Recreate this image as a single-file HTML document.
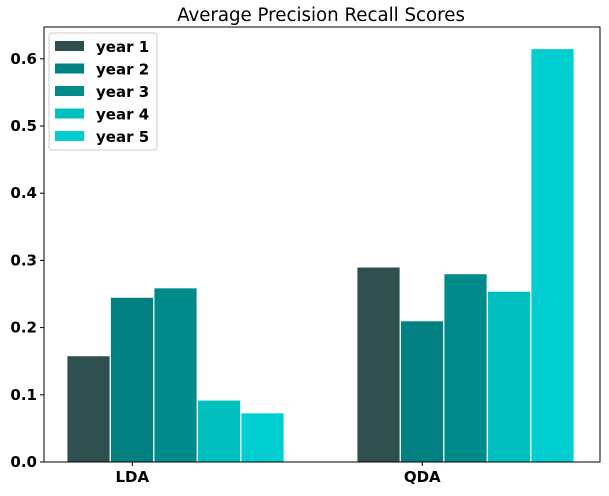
<!DOCTYPE html>
<html><head><meta charset="utf-8"><style>
body{margin:0;background:#fff;}
svg{font-family:"DejaVu Sans","Liberation Sans",sans-serif;}
</style></head><body>
<svg id="chart" width="609" height="491">
<text x="321" y="21" text-anchor="middle" font-size="18.2">Average Precision Recall Scores</text>
<g id="bars"></g>
<g id="axes"></g>
<g id="legend"></g>
</svg>
<script>
const categories=["LDA","QDA"];
const seriesNames=["year 1","year 2","year 3","year 4","year 5"];
const year1=[0.158,0.290];
const year2=[0.245,0.210];
const year3=[0.259,0.280];
const year4=[0.092,0.254];
const year5=[0.073,0.615];
const yTicks=[0.0,0.1,0.2,0.3,0.4,0.5,0.6];
const colors=["#2F4F4F","#008080","#008B8B","#00BFBF","#00CED1"];
const series=[year1,year2,year3,year4,year5];
const NS="http://www.w3.org/2000/svg";
const L=44,R=600,T=27,B=462;
const y=v=>B-v*672;
const groupX=[67,357];
const bw=43.5;
function el(t,a,p){const e=document.createElementNS(NS,t);for(const k in a)e.setAttribute(k,a[k]);p.appendChild(e);return e;}
const gb=document.getElementById('bars');
series.forEach((s,si)=>{s.forEach((v,ci)=>{
 const r=el('rect',{x:groupX[ci]+si*bw,y:y(v),width:bw-0.5,height:B-y(v),fill:colors[si],stroke:'#fff','stroke-width':0.8},gb);
 
 
});});
const ga=document.getElementById('axes');
const fr=el('rect',{x:L,y:T,width:R-L,height:B-T,fill:'none',stroke:'#000','stroke-width':1},ga);


yTicks.forEach(t=>{
 el('line',{x1:L-4,x2:L,y1:y(t),y2:y(t),stroke:'#000'},ga);
 const tx=el('text',{x:L-7,y:y(t)+5,'text-anchor':'end','font-size':15,'font-weight':'bold'},ga);
 tx.textContent=t.toFixed(1);
 
 
});
categories.forEach((c,ci)=>{
 const cx=groupX[ci]+bw*1.5;
 el('line',{x1:cx,x2:cx,y1:B,y2:B+4,stroke:'#000'},ga);
 const tx=el('text',{x:cx,y:B+20,'text-anchor':'middle','font-size':15,'font-weight':'bold'},ga);
 tx.textContent=c;
 
 
});
const gl=document.getElementById('legend');
const lb=el('rect',{x:49,y:33,width:108,height:117,rx:3,fill:'#fff',stroke:'#ccc'},gl);


seriesNames.forEach((n,i)=>{
 const yy=41+i*22.5;
 const sw=el('rect',{x:55,y:yy,width:29,height:10,fill:colors[i]},gl);
 
 
 const tx=el('text',{x:96,y:yy+11,'font-size':15,'font-weight':'bold'},gl);
 tx.textContent=n;
 
 
});
</script>
</body></html>
